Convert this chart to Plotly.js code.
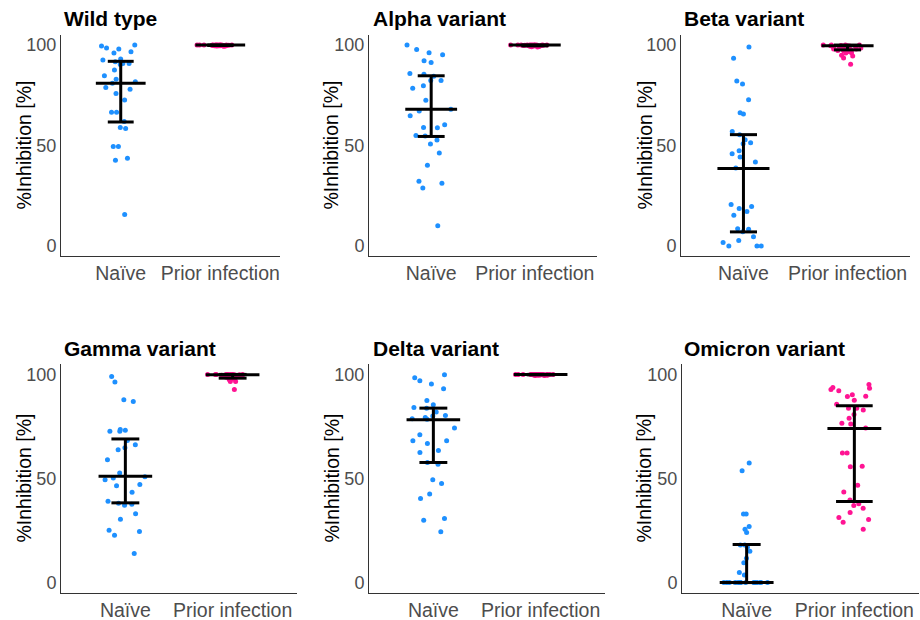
<!DOCTYPE html>
<html>
<head>
<meta charset="utf-8">
<script src="https://cdn.plot.ly/plotly-3.0.1.min.js"></script>
<style>html,body{margin:0;padding:0;background:#fff;}</style>
</head>
<body>
<div id="chart" style="width:920px;height:620px;"></div>
<script>
// ---- data ----
const groups = ['Naïve', 'Prior infection'];
const panelTitles = ['Wild type', 'Alpha variant', 'Beta variant', 'Gamma variant', 'Delta variant', 'Omicron variant'];
const yTitle = '%Inhibition [%]';
const yTicks = [0, 50, 100];

const wildNaive = [99.5, 100, 98.5, 98, 96, 96.7, 93, 91.7, 90.8, 90.3, 92.6, 90.8, 87.6, 84.7, 83, 81.7, 81, 78, 78.9, 75.9, 72.6, 66.5, 66.5, 61.9, 59, 58.4, 49.5, 49.5, 43.7, 42.7, 15.7];
const wildPrior = [100, 100, 100, 100, 100, 100, 100, 100, 99.9, 99.9, 99.9, 99.8, 99.8, 99.8, 99.7, 99.7, 99.6, 99.6, 99.5, 99.5, 100, 100, 99.9, 99.8, 99.7, 100, 100, 99.9, 99.6, 99.4];
const alphaNaive = [100, 97.8, 96.2, 95.2, 92.2, 91.3, 85.8, 85.5, 84.5, 82.3, 82.3, 79.8, 78.5, 72.5, 68, 67.2, 64.8, 60.3, 59, 58.8, 55, 54.7, 52.7, 50.8, 46.3, 40.2, 32.2, 31.2, 28.8, 10];
const alphaPrior = [100, 100, 100, 100, 100, 100, 100, 99.9, 99.9, 99.9, 99.8, 99.8, 99.7, 99.7, 99.6, 99.6, 99.5, 99.4, 99.3, 99.2, 99.0, 100, 100, 99.9, 99.8, 100, 99.7, 99.5, 100, 99.9];
const betaNaive = [99, 93.4, 82.1, 80.6, 72.8, 66.3, 65.7, 57, 55.4, 51.4, 52.9, 50.9, 45.9, 47.4, 44.3, 41.8, 38.8, 20.6, 19.6, 18.6, 17.1, 15.3, 7.1, 8.3, 8.6, 4.6, 2.7, 1.7, 0, 0, 0];
const betaPrior = [100, 100, 100, 99.8, 99.7, 99.6, 99.5, 99.5, 99.3, 99.2, 99, 99, 98.8, 98.5, 98.3, 98, 98, 97.8, 97.5, 97.3, 97, 96.8, 96.7, 96.2, 96, 94.9, 94.5, 93.5, 90.4, 100];
const gammaNaive = [99, 96.3, 87, 87.8, 73.2, 73.5, 72.7, 72.7, 68.2, 66.2, 63.8, 64.8, 59, 52.6, 50.3, 50.8, 49.4, 46.5, 47.1, 43.4, 39.1, 38.1, 37.1, 37.6, 33.1, 30.4, 25.1, 24.6, 22.8, 14];
const gammaPrior = [100, 100, 100, 100, 100, 99.9, 99.9, 99.8, 99.8, 99.7, 99.7, 99.6, 99.5, 99.5, 99.3, 99.2, 99.0, 98.8, 98.6, 98.4, 98.3, 98.1, 97.9, 97.6, 96.6, 96.6, 98.0, 99.4, 100, 92.8];
const deltaNaive = [99.8, 98.4, 97, 95.4, 93.1, 87.5, 85.4, 83.8, 84.1, 80.3, 80, 81.9, 79.3, 78.7, 78.5, 74.2, 71, 68.1, 68.1, 66.8, 63.5, 62.5, 56.9, 57.7, 49.4, 47.6, 42.5, 40.4, 30.8, 30, 24.4];
const deltaPrior = [100, 100, 100, 100, 100, 100, 100, 100, 99.9, 99.9, 99.9, 99.8, 99.8, 99.8, 99.7, 99.7, 99.6, 99.6, 99.5, 99.5, 100, 100, 99.9, 99.8, 99.7, 100, 100, 99.9, 99.6, 99.8];
const omicronNaive = [57.5, 53.7, 32.9, 32.9, 27, 25.6, 24.1, 18.1, 18.1, 17, 15.1, 11.7, 9.5, 4.8, 3.7, 0, 0, 0, 0, 0, 0, 0, 0, 0, 0, 0, 0, 0, 0, 0, 0];
const omicronPrior = [95.1, 93.7, 93.3, 92.7, 92.1, 90.2, 89.5, 89.4, 87.6, 83.8, 83.8, 82.9, 85.7, 80.8, 78.9, 76.5, 76.2, 74.3, 62.2, 62.2, 55.6, 55.9, 46.7, 43.5, 39.7, 37.9, 37, 35.7, 33.7, 31.3, 30.3, 29, 25.6];

// median and interquartile range shown as black bars
const medNaive = [81.0, 68.0, 38.6, 51.1, 78.2, 0];
const q1Naive  = [61.7, 54.5, 7.0, 38.3, 57.7, 0];
const q3Naive  = [91.9, 84.7, 55.4, 69.0, 83.8, 18.3];
const medPrior = [100, 100, 99.7, 99.8, 100, 74.0];
const q1Prior  = [99.8, 99.6, 97.6, 98.2, 99.8, 39.0];
const q3Prior  = [100, 100, 100, 100, 100, 84.9];

const naiveSets = [wildNaive, alphaNaive, betaNaive, gammaNaive, deltaNaive, omicronNaive];
const priorSets = [wildPrior, alphaPrior, betaPrior, gammaPrior, deltaPrior, omicronPrior];

// ---- styling / layout geometry (pixels) ----
const W = 920, H = 620;
const panelsPx = [
  {x0: 61, x1: 280, y0: 35, y1: 256},
  {x0: 369, x1: 597, y0: 35, y1: 256},
  {x0: 681, x1: 910, y0: 35, y1: 256},
  {x0: 61, x1: 297, y0: 364, y1: 593},
  {x0: 369, x1: 605, y0: 364, y1: 593},
  {x0: 682, x1: 919, y0: 364, y1: 593}
];
const titlePx = [[62, 18], [371, 18], [682, 18], [62, 348], [371, 348], [682, 348]];
const yTitleX = [24, 331, 645, 23, 331, 643];
const capHalf = [[0.13, 0.13], [0.13, 0.13], [0.13, 0.13], [0.13, 0.13], [0.13, 0.13], [0.13, 0.17]];
const colors = ['#1E90FF', '#FF1493'];
const FONT = 'Liberation Sans, Arial, Helvetica, sans-serif';

const traces = [];
const layout = {
  width: W, height: H,
  margin: {l: 0, r: 0, t: 0, b: 0},
  paper_bgcolor: '#ffffff', plot_bgcolor: '#ffffff',
  showlegend: false,
  font: {family: FONT},
  annotations: []
};

for (let i = 0; i < 6; i++) {
  const k = i + 1;
  const xa = 'x' + (k === 1 ? '' : k), ya = 'y' + (k === 1 ? '' : k);
  const p = panelsPx[i];
  layout['xaxis' + (k === 1 ? '' : k)] = {
    domain: [p.x0 / W, p.x1 / W],
    range: [0.4, 2.6],
    tickvals: [1, 2], ticktext: groups,
    showline: true, linecolor: '#333333', linewidth: 1,
    ticks: '', showgrid: false, zeroline: false,
    tickfont: {family: FONT, size: 19.5, color: '#4D4D4D'},
    anchor: ya, fixedrange: true
  };
  layout['yaxis' + (k === 1 ? '' : k)] = {
    domain: [1 - p.y1 / H, 1 - p.y0 / H],
    range: [-5, 105],
    tickvals: yTicks,
    showline: true, linecolor: '#333333', linewidth: 1,
    ticks: '', showgrid: false, zeroline: false,
    tickfont: {family: FONT, size: 18, color: '#4D4D4D'},
    anchor: xa, fixedrange: true
  };
  const sets = [naiveSets[i], priorSets[i]];
  const meds = [medNaive[i], medPrior[i]];
  const q1s = [q1Naive[i], q1Prior[i]];
  const q3s = [q3Naive[i], q3Prior[i]];
  for (let g = 0; g < 2; g++) {
    traces.push({
      type: 'box', y: sets[g], x0: g + 1, width: 0.5,
      boxpoints: 'all', jitter: 1, pointpos: 0,
      fillcolor: 'rgba(0,0,0,0)', line: {width: 0, color: 'rgba(0,0,0,0)'},
      marker: {color: colors[g], size: 5, opacity: 1},
      hoveron: 'points', xaxis: xa, yaxis: ya, name: groups[g]
    });
  }
  for (let g = 0; g < 2; g++) {
    const pos = g + 1, c = capHalf[i][g];
    traces.push({
      type: 'scatter', mode: 'lines',
      x: [pos - 0.25, pos + 0.25, null, pos - c, pos + c, null, pos, pos, null, pos - c, pos + c],
      y: [meds[g], meds[g], null, q3s[g], q3s[g], null, q1s[g], q3s[g], null, q1s[g], q1s[g]],
      line: {color: '#000000', width: 3},
      hoverinfo: 'skip', xaxis: xa, yaxis: ya
    });
  }
  layout.annotations.push({
    xref: 'paper', yref: 'paper',
    x: titlePx[i][0] / W, y: 1 - titlePx[i][1] / H,
    xanchor: 'left', yanchor: 'middle', showarrow: false,
    text: panelTitles[i],
    font: {family: FONT, size: 21, color: '#000000', weight: 'bold'}
  });
  layout.annotations.push({
    xref: 'paper', yref: 'paper',
    x: yTitleX[i] / W, y: 1 - ((p.y0 + p.y1) / 2) / H,
    xanchor: 'center', yanchor: 'middle', showarrow: false,
    textangle: -90, text: yTitle,
    font: {family: FONT, size: 19.5, color: '#000000'}
  });
}

Plotly.newPlot('chart', traces, layout, {displayModeBar: false, staticPlot: true});
</script>
</body>
</html>
